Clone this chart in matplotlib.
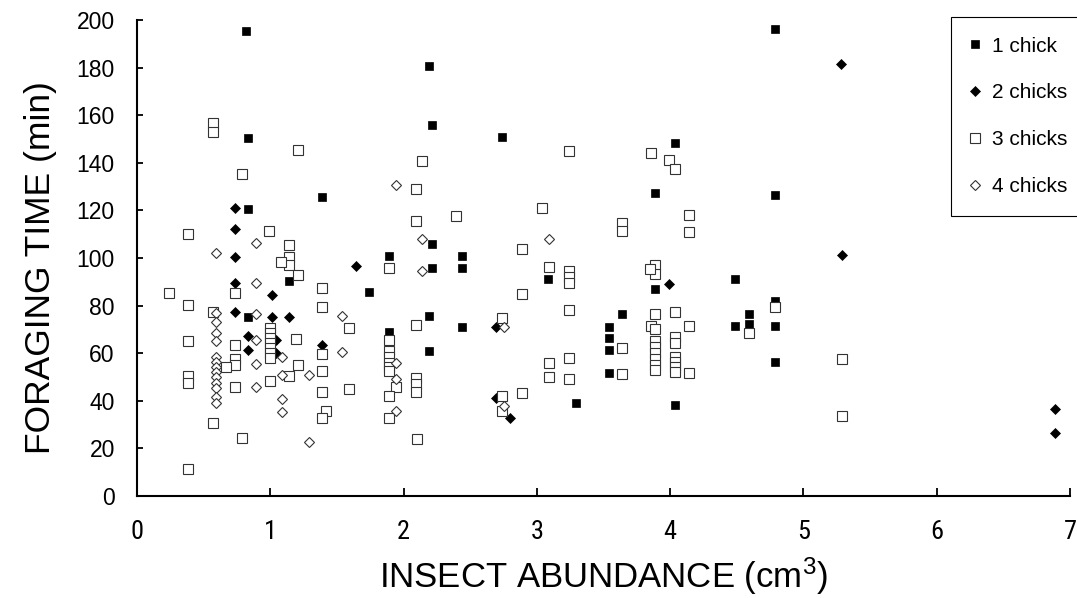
import matplotlib
matplotlib.use("Agg")
from matplotlib import pyplot as plt

# Data (insect abundance cm3, foraging time min)
chick1_x = [0.82, 0.83, 1.39, 0.83, 1.89, 1.14, 1.74, 0.83, 1.89,
            2.19, 2.21, 2.74, 4.04, 3.89, 2.21, 2.44, 2.21, 2.44, 3.08, 3.89,
            3.64, 2.19, 2.44, 3.54, 3.54, 2.19, 3.54, 3.54, 3.29, 4.04,
            4.79, 4.79, 4.49, 4.79, 4.59, 4.59, 4.49, 4.79, 4.79]
chick1_y = [195.5, 150.3, 125.5, 120.4, 100.8, 90.5, 85.7, 75.3, 69.0,
            180.8, 155.9, 151.0, 148.2, 127.2, 105.7, 100.8, 95.9, 95.9, 91.0, 87.1,
            76.3, 75.8, 70.9, 71.1, 66.2, 60.9, 61.3, 51.5, 39.2, 38.2,
            196.2, 126.3, 91.2, 81.9, 76.3, 72.3, 71.4, 71.4, 56.3]

chick2_x = [0.735, 0.735, 0.735, 1.64, 0.735, 1.01, 0.735, 1.01, 1.14, 0.83,
            1.04, 1.04, 1.39, 0.83, 3.99, 2.69, 2.69, 2.80, 5.28, 5.29, 6.89, 6.89]
chick2_y = [121.1, 112.0, 100.5, 96.6, 89.4, 84.4, 77.4, 75.3, 75.3, 67.2,
            65.5, 60.0, 63.4, 61.3, 89.1, 70.9, 41.0, 32.9, 181.5, 101.3, 36.7, 26.6]

chick3_x = [0.57, 0.57, 1.21, 0.79, 0.99, 0.38, 1.14, 1.14, 1.14, 1.08, 1.89, 1.21,
            0.24, 0.735, 1.39, 0.38, 1.39, 0.57, 1.59,
            1.0, 1.0, 1.0, 1.0, 1.0, 1.0, 1.0,
            0.38, 1.19, 1.39, 0.735, 0.735, 0.735, 0.67, 1.21, 1.14, 1.39, 0.38, 0.38,
            1.0, 0.735, 1.39, 1.59, 1.42, 1.39, 0.57, 0.79, 0.38,
            1.89, 1.89, 1.89, 1.89, 1.89, 1.89, 1.94, 1.89, 1.89,
            3.24, 3.86, 3.99, 4.04, 2.14, 2.09, 2.39, 3.04, 2.09, 3.64, 3.64, 2.89,
            3.09, 3.24, 3.24, 3.24, 3.89, 3.89, 3.85, 2.89, 3.24, 3.89, 4.04, 2.09,
            2.74, 3.86, 3.89, 4.04, 4.04, 3.64,
            3.89, 3.89, 3.89, 3.89, 3.89, 3.89,
            4.04, 4.04, 4.04, 4.04, 3.64, 3.09, 3.09, 3.24, 3.24, 2.09, 2.09, 2.09,
            2.89, 2.74, 2.74, 2.10,
            4.14, 4.14, 4.79, 4.59, 4.14, 4.14, 5.29, 5.29]
chick3_y = [156.6, 153.1, 145.4, 135.2, 111.3, 110.0, 105.5, 100.6, 97.1, 98.4, 95.7, 92.9,
            85.2, 85.2, 87.5, 80.3, 79.5, 77.4, 70.7,
            70.4, 68.3, 66.2, 64.1, 62.0, 59.9, 57.8,
            65.3, 65.8, 59.5, 63.4, 57.4, 55.0, 54.3, 55.0, 50.4, 52.7, 50.4, 47.3,
            48.5, 45.7, 43.8, 44.8, 35.8, 32.6, 30.5, 24.5, 11.3,
            65.5, 61.0, 58.5, 56.0, 54.0, 52.5, 45.9, 42.0, 32.9,
            145.0, 144.0, 141.2, 137.3, 140.8, 128.9, 117.8, 120.9, 115.7, 114.6, 111.5, 103.9,
            96.1, 94.7, 92.2, 89.6, 97.1, 93.3, 95.2, 84.9, 78.2, 76.3, 77.4, 71.8,
            74.9, 71.4, 70.2, 66.7, 64.4, 62.3,
            65.0, 62.5, 60.0, 57.5, 55.0, 53.0,
            58.5, 56.4, 54.3, 52.2, 51.3, 56.0, 50.1, 58.1, 49.3, 49.4, 46.9, 43.8,
            43.1, 42.0, 35.7, 23.8,
            118.1, 111.1, 79.5, 68.3, 71.4, 51.5, 57.6, 33.7]

chick4_x = [1.94, 0.89, 0.59, 0.89, 0.59, 0.89, 1.54, 0.59, 0.59, 0.59, 0.89,
            0.59, 0.59, 0.59, 0.59, 0.59, 0.59, 0.59, 0.59, 0.59,
            0.89, 1.09, 1.09, 1.29, 0.89, 1.09, 1.09, 1.29, 1.54,
            1.94, 1.94, 1.94, 2.14, 3.09, 2.14, 2.75, 2.75]
chick4_y = [130.8, 106.4, 102.2, 89.4, 77.0, 76.5, 75.6, 73.2, 68.4, 65.3, 65.5,
            58.5, 56.4, 54.3, 52.2, 49.9, 47.4, 45.3, 41.7, 38.9,
            55.5, 58.5, 50.8, 50.8, 45.7, 40.6, 35.4, 22.8, 60.6,
            55.7, 49.0, 35.7, 107.9, 107.9, 94.7, 70.9, 37.9]

x_ticks = [0, 1, 2, 3, 4, 5, 6, 7]
y_ticks = [0, 20, 40, 60, 80, 100, 120, 140, 160, 180, 200]
labels = ['1 chick', '2 chicks', '3 chicks', '4 chicks']

narrow = ['Roboto Condensed', 'Archivo Narrow', 'Liberation Sans', 'DejaVu Sans']
wide = ['Liberation Sans', 'DejaVu Sans']

plt.rcParams['mathtext.fontset'] = 'custom'
plt.rcParams['mathtext.rm'] = 'Liberation Sans'
plt.rcParams['mathtext.default'] = 'rm'

fig = plt.figure(figsize=(10.77, 5.98), dpi=100)
ax = fig.add_axes([137/1077, 1 - 496/598, (1070 - 137)/1077, (496 - 20)/598])

ax.plot(chick1_x, chick1_y, ls='none', marker='s', ms=6, mfc='black', mec='black',
        mew=0.5, label=labels[0], clip_on=False)
ax.plot(chick2_x, chick2_y, ls='none', marker='D', ms=5.2, mfc='black', mec='black',
        mew=0.5, label=labels[1], clip_on=False)
ax.plot(chick3_x, chick3_y, ls='none', marker='s', ms=6.5, mfc='white', mec='#333333',
        mew=0.8, label=labels[2], clip_on=False)
ax.plot(chick4_x, chick4_y, ls='none', marker='D', ms=5.3, mfc='white', mec='#333333',
        mew=0.8, label=labels[3], clip_on=False)

ax.set_xlim(0, 7)
ax.set_ylim(0, 200)
ax.spines['top'].set_visible(False)
ax.spines['right'].set_visible(False)
ax.spines['left'].set_linewidth(1.5)
ax.spines['bottom'].set_linewidth(1.5)

ax.set_xticks(x_ticks)
ax.set_yticks(y_ticks)
ax.tick_params(axis='x', direction='in', length=6, width=1.3, pad=17)
ax.tick_params(axis='y', direction='in', length=4.5, width=1.3, pad=16)
for t in ax.get_xticklabels():
    t.set_family(narrow)
    t.set_fontsize(19)
for t in ax.get_yticklabels():
    t.set_family(wide)
    t.set_fontsize(16.5)

ax.set_xlabel('INSECT ABUNDANCE (cm$^3$)', family=wide, fontsize=25)
ax.xaxis.set_label_coords(0.5, -0.126)
ax.set_ylabel('FORAGING TIME (min)', family=wide, fontsize=25.5)
ax.yaxis.set_label_coords(-0.086, 0.48)

leg = fig.legend(loc='upper left', bbox_to_anchor=(951/1077, 1 - 17/598),
                 bbox_transform=fig.transFigure, borderaxespad=0, frameon=True,
                 fancybox=False, edgecolor='black', framealpha=1, numpoints=1,
                 handlelength=0.4, handletextpad=0.6, labelspacing=1.33,
                 borderpad=0.95, prop={'family': wide, 'size': 15})
leg.get_frame().set_linewidth(0.8)

plt.savefig('out.png', dpi=100)
